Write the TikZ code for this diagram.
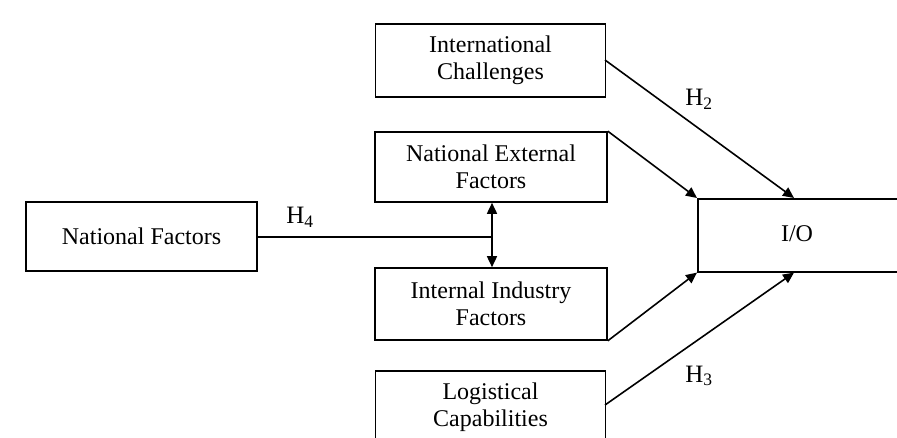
\documentclass[tikz,border=0pt]{standalone}
\usepackage{fontspec}
\setmainfont{Liberation Serif}
\usetikzlibrary{arrows.meta}
\begin{document}
\begin{tikzpicture}[x=1pt,y=-1pt,
  box/.style={draw,line width=1.6pt,inner sep=0pt,align=center,font=\fontsize{24}{27}\selectfont},
  conn/.style={line width=1.6pt},
  tip/.tip={Triangle[length=11pt,width=10pt]},
  arr/.style={conn,-tip},
  lab/.style={font=\fontsize{25}{28}\selectfont}]
\useasboundingbox (0,0) rectangle (897,438);
\node[box,minimum width=231pt,minimum height=69pt] (nf) at (141.5,236.5) {National Factors};
\node[box,minimum width=230pt,minimum height=73pt] (ic) at (490.5,60.5) {International\\Challenges};
\node[box,minimum width=232pt,minimum height=70pt] (ne) at (491,167) {National External\\Factors};
\node[box,minimum width=232pt,minimum height=72pt] (ii) at (491,304) {Internal Industry\\Factors};
\node[box,minimum width=230pt,minimum height=72pt,anchor=north] (lc) at (490.5,370) {Logistical\\Capabilities};
\node[box,minimum width=206pt,minimum height=73pt,anchor=north west] (io) at (697,198) {};
\node[box,draw=none] (iot) at (797,234) {I/O};
\coordinate (j) at (492,237);
\draw[conn] (nf.east |- j) -- (j);
\draw[conn,tip-tip] (ne.south -| j) -- (ii.north -| j);
\draw[arr] (605,60) -- ([xshift=97pt]io.north west);
\draw[arr] (ne.north east) -- (io.north west);
\draw[arr] (ii.south east) -- (io.south west);
\draw[arr] (605,405) -- ([xshift=97pt]io.south west);
\node[lab] (h2) at (699,99) {H\textsubscript{2}};
\node[lab] (h3) at (699,376) {H\textsubscript{3}};
\node[lab] (h4) at (300,217) {H\textsubscript{4}};
\end{tikzpicture}
\end{document}
